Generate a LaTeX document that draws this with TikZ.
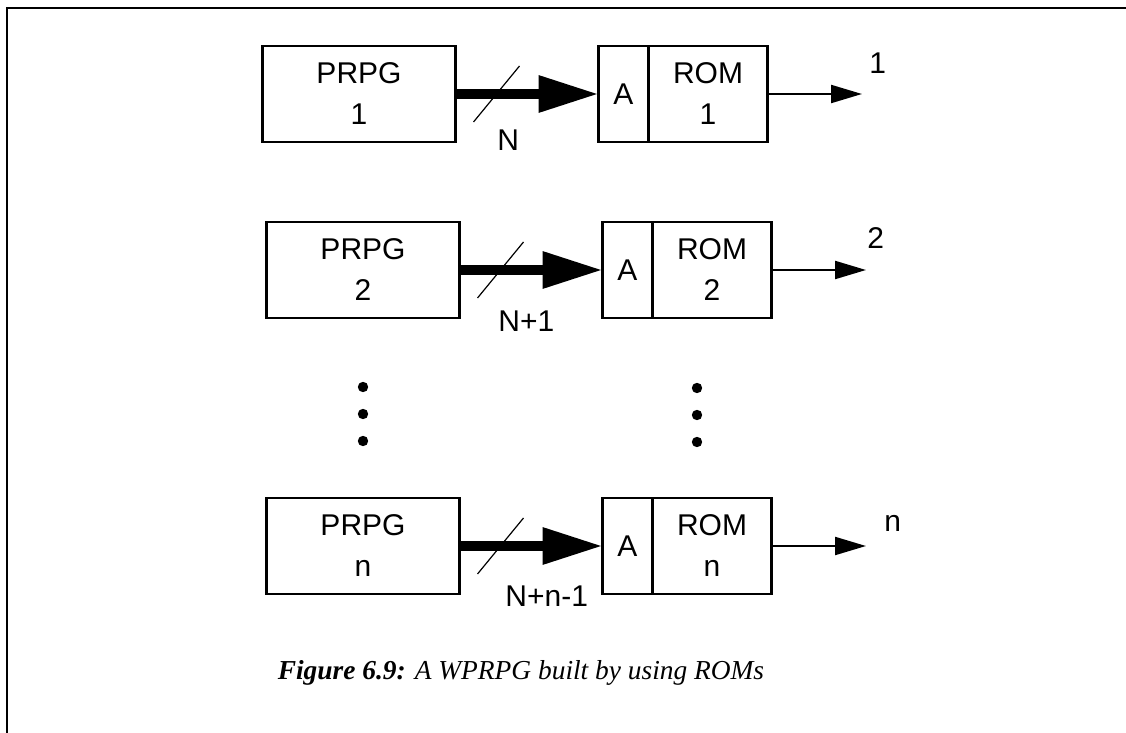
\documentclass[tikz,border=0pt]{standalone}
\usepackage{fontspec}
\setmainfont{Liberation Sans}
\newfontfamily\figfont{Liberation Serif}
\usetikzlibrary{positioning,arrows.meta}

\begin{document}
\begin{tikzpicture}[
      x=0.5pt,y=-0.5pt,
      lbl/.style={font=\fontsize{15}{20.5}\selectfont,align=center,inner sep=0pt},
      blk/.style={draw,line width=1.2pt,inner sep=0pt,outer sep=0pt,
        minimum height=48pt,lbl},
      bus/.style={line width=4.75pt,-{Triangle[length=30pt,width=17.5pt]}},
      wire/.style={line width=1.1pt,-{Triangle[length=15.5pt,width=9pt]}},
      tick/.style={line width=0.6pt}
    ]
    \useasboundingbox (0,0) rectangle (1126,733);
    \draw[line width=1.3pt] (7,733) -- (7,8) -- (1126,8);
    \foreach \i/\dx/\y/\t in {1/-4/94/1,2/0/270/2,3/0/546/n} {
      \node[blk,minimum width=96.5pt] (p\i) at ({363+\dx},\y) {PRPG\\\t};
      \node[blk,minimum width=25pt] (a\i) at ({627.5+\dx},\y) {A};
      \node[blk,minimum width=59.5pt,anchor=west] (r\i) at (a\i.east) {ROM\\\t};
      \coordinate (o\i) at ({866+\dx},\y);
      \draw[bus] (p\i) -- (a\i);
      \draw[tick] ([shift={(18,28)}]p\i.east) -- ([shift={(64,-28)}]p\i.east);
      \draw[wire] (r\i) -- (o\i);
    }
    \node[lbl,anchor=west] (w1) at (497,140) {N};
    \node[lbl,anchor=west] (w2) at (498,321) {N+1};
    \node[lbl,anchor=west] (w3) at (505,596) {N+n-1};
    \node[lbl,anchor=base west] (q1) at (869,74) {1};
    \node[lbl,anchor=base west] (q2) at (867,249) {2};
    \node[lbl,anchor=base west] (q3) at (884,531) {n};
    \foreach \y in {387,414,441} {
      \fill (363,\y) circle (2.6pt);
      \fill (697,\y+1) circle (2.6pt);
    }
    \node[font=\figfont\fontsize{13.7}{16}\selectfont] (cap) at (521,673)
    {\textbf{\textit{Figure 6.9:}} \textit{A WPRPG built by using ROMs}};
  \end{tikzpicture}
\end{document}
